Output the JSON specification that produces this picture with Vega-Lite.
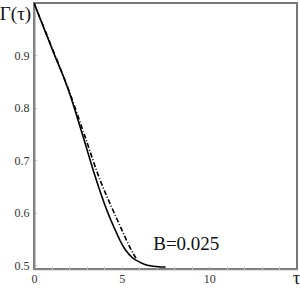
{
  "$schema": "https://vega.github.io/schema/vega-lite/v6.json",
  "autosize": "none",
  "width": 263,
  "height": 266,
  "padding": {"left": 34, "top": 3, "right": 3, "bottom": 20},
  "background": "white",
  "config": {
    "view": {"stroke": "#777", "strokeWidth": 2},
    "font": "Liberation Serif"
  },
  "resolve": {"axis": {"x": "independent"}},
  "layer": [
    {
      "data": {"values": [
        {"t": 0, "r": 1.0, "s": "dashdot"},
        {"t": 1, "r": 0.917, "s": "dashdot"},
        {"t": 1.98, "r": 0.834, "s": "dashdot"},
        {"t": 2.91, "r": 0.745, "s": "dashdot"},
        {"t": 3.77, "r": 0.662, "s": "dashdot"},
        {"t": 4.5, "r": 0.605, "s": "dashdot"},
        {"t": 5.01, "r": 0.567, "s": "dashdot"},
        {"t": 5.45, "r": 0.535, "s": "dashdot"},
        {"t": 5.87, "r": 0.51, "s": "dashdot"},
        {"t": 0, "r": 1.0, "s": "solid"},
        {"t": 1, "r": 0.915, "s": "solid"},
        {"t": 1.96, "r": 0.834, "s": "solid"},
        {"t": 2.8, "r": 0.745, "s": "solid"},
        {"t": 3.5, "r": 0.668, "s": "solid"},
        {"t": 4.15, "r": 0.605, "s": "solid"},
        {"t": 4.63, "r": 0.567, "s": "solid"},
        {"t": 5.1, "r": 0.535, "s": "solid"},
        {"t": 5.58, "r": 0.515, "s": "solid"},
        {"t": 6.0, "r": 0.506, "s": "solid"},
        {"t": 6.34, "r": 0.501, "s": "solid"},
        {"t": 7.0, "r": 0.497, "s": "solid"},
        {"t": 7.5, "r": 0.496, "s": "solid"}
      ]},
      "mark": {"type": "line", "color": "black", "strokeWidth": 1.6, "interpolate": "monotone", "clip": true},
      "encoding": {
        "x": {"field": "t", "type": "quantitative",
          "scale": {"domain": [0, 15], "nice": false, "zero": false},
          "axis": {
            "orient": "bottom",
            "values": [0, 5, 10],
            "format": "d",
            "labelOverlap": false, "labelFlush": false, "labelBound": false,
            "grid": false, "domainColor": "#888", "domainWidth": 1.5,
            "tickColor": "#bbb", "tickSize": -3, "labelPadding": 7,
            "labelFont": "Liberation Serif", "labelFontSize": 12, "labelColor": "#333",
            "title": "τ", "titleFont": "Liberation Serif", "titleFontSize": 19, "titleFontWeight": "normal",
            "titleColor": "#222", "titleX": 262, "titleY": 8, "titleAlign": "center", "titleBaseline": "middle"
          }},
        "y": {"field": "r", "type": "quantitative",
          "scale": {"domain": [0.4924, 1.0], "nice": false, "zero": false},
          "axis": {
            "values": [0.5, 0.6, 0.7, 0.8, 0.9],
            "format": ".1f",
            "labelOverlap": false, "labelFlush": false, "labelBound": false,
            "grid": false, "domainColor": "#888", "domainWidth": 2,
            "tickColor": "#ccc", "tickSize": -3, "labelPadding": 8,
            "labelFont": "Liberation Serif", "labelFontSize": 12, "labelColor": "#333",
            "title": "Γ(τ)", "titleFont": "Liberation Serif", "titleFontSize": 19, "titleFontWeight": "normal",
            "titleColor": "#111", "titleAngle": 0, "titleX": -19, "titleY": 10, "titleAlign": "center", "titleBaseline": "middle"
          }},
        "strokeDash": {"field": "s", "type": "nominal",
          "scale": {"domain": ["dashdot", "solid"], "range": [[5, 2, 1, 2], [1, 0]]},
          "legend": null}
      }
    },
    {
      "data": {"values": [{"t": 6.8, "r": 0.529, "label": "B=0.025"}]},
      "mark": {"type": "text", "align": "left", "baseline": "alphabetic", "font": "Liberation Serif", "fontSize": 19, "color": "#111"},
      "encoding": {
        "x": {"field": "t", "type": "quantitative",
          "axis": {
            "orient": "bottom",
            "values": [1,2,3,4,6,7,8,9,11,12,13,14],
            "labels": false, "domain": false, "grid": false,
            "tickColor": "#ccc", "tickSize": -3, "title": null
          }},
        "y": {"field": "r", "type": "quantitative"},
        "text": {"field": "label"}
      }
    }
  ]
}
